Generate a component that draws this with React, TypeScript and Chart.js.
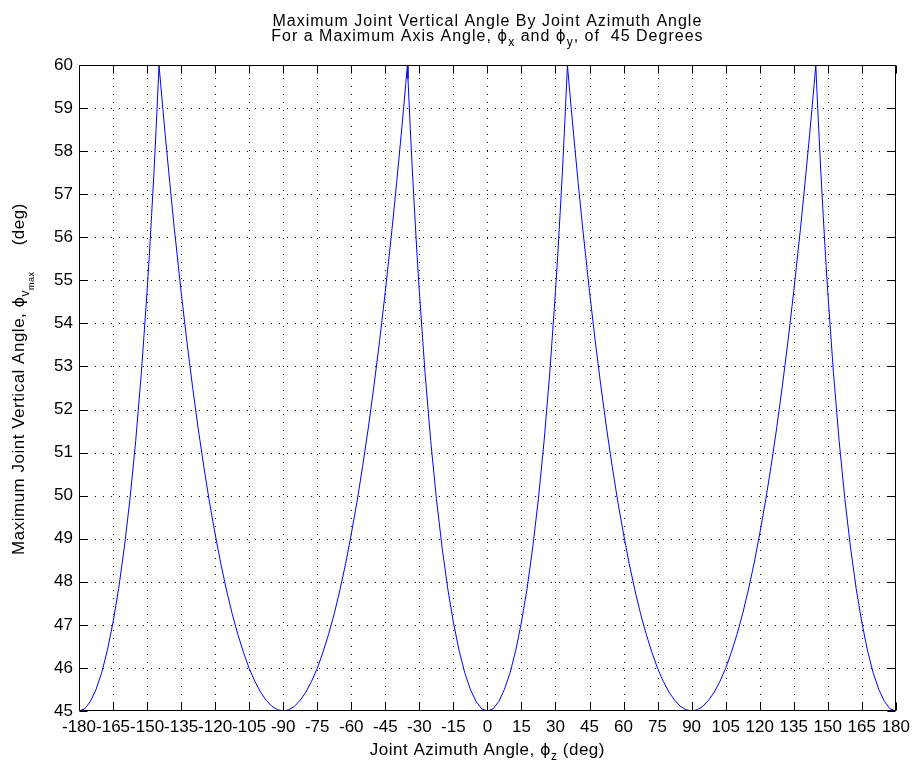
import React, { useEffect, useRef } from "react";
import { Chart, registerables } from "chart.js";
Chart.register(...registerables);

const W = 916;
const H = 763;
const FONT = '"Liberation Sans", Arial, Helvetica, sans-serif';
const SYM = '"DejaVu Sans", sans-serif';

const X_MIN = -180;
const X_MAX = 180;
const X_STEP = 15;
const Y_MIN = 45;
const Y_MAX = 60;
const Y_STEP = 1;

// Segment -180 .. -90
const seg1X = [-180, -177.5, -175, -172.5, -170, -167.5, -165, -162.5, -160, -157.5, -155, -152.5, -150, -149, -148, -147, -146, -145, -144.74, -144, -143, -142, -140, -138, -135, -132.5, -130, -127.5, -125, -122.5, -120, -117.5, -115, -112.5, -110, -107.5, -105, -102.5, -100, -97.5, -95, -92.5, -90];
const seg1Y = [45, 45.05, 45.22, 45.5, 45.89, 46.41, 47.06, 47.85, 48.81, 49.94, 51.28, 52.86, 54.74, 55.58, 56.51, 57.47, 58.53, 59.68, 60, 59.55, 58.96, 58.38, 57.27, 56.21, 54.74, 53.6, 52.55, 51.57, 50.68, 49.85, 49.11, 48.42, 47.81, 47.26, 46.78, 46.36, 45.99, 45.69, 45.44, 45.25, 45.11, 45.03, 45];
// Segment -90 .. 0
const seg2X = [-87.5, -85, -82.5, -80, -77.5, -75, -72.5, -70, -67.5, -65, -62.5, -60, -57.5, -55, -52.5, -50, -47.5, -45, -42, -40, -38, -37, -36, -35.26, -35, -34, -33, -32, -31, -30, -27.5, -25, -22.5, -20, -17.5, -15, -12.5, -10, -7.5, -5, -2.5, 0];
const seg2Y = [45.03, 45.11, 45.25, 45.44, 45.69, 45.99, 46.36, 46.78, 47.26, 47.81, 48.42, 49.11, 49.85, 50.68, 51.57, 52.55, 53.6, 54.74, 56.21, 57.27, 58.38, 58.96, 59.55, 60, 59.68, 58.53, 57.47, 56.51, 55.58, 54.74, 52.86, 51.28, 49.94, 48.81, 47.85, 47.06, 46.41, 45.89, 45.5, 45.22, 45.05, 45];
// Segment 0 .. 90
const seg3X = [2.5, 5, 7.5, 10, 12.5, 15, 17.5, 20, 22.5, 25, 27.5, 30, 31, 32, 33, 34, 35, 35.26, 36, 37, 38, 40, 42, 45, 47.5, 50, 52.5, 55, 57.5, 60, 62.5, 65, 67.5, 70, 72.5, 75, 77.5, 80, 82.5, 85, 87.5, 90];
const seg3Y = [45.05, 45.22, 45.5, 45.89, 46.41, 47.06, 47.85, 48.81, 49.94, 51.28, 52.86, 54.74, 55.58, 56.51, 57.47, 58.53, 59.68, 60, 59.55, 58.96, 58.38, 57.27, 56.21, 54.74, 53.6, 52.55, 51.57, 50.68, 49.85, 49.11, 48.42, 47.81, 47.26, 46.78, 46.36, 45.99, 45.69, 45.44, 45.25, 45.11, 45.03, 45];
// Segment 90 .. 180
const seg4X = [92.5, 95, 97.5, 100, 102.5, 105, 107.5, 110, 112.5, 115, 117.5, 120, 122.5, 125, 127.5, 130, 132.5, 135, 138, 140, 142, 143, 144, 144.74, 145, 146, 147, 148, 149, 150, 152.5, 155, 157.5, 160, 162.5, 165, 167.5, 170, 172.5, 175, 177.5, 180];
const seg4Y = [45.03, 45.11, 45.25, 45.44, 45.69, 45.99, 46.36, 46.78, 47.26, 47.81, 48.42, 49.11, 49.85, 50.68, 51.57, 52.55, 53.6, 54.74, 56.21, 57.27, 58.38, 58.96, 59.55, 60, 59.68, 58.53, 57.47, 56.51, 55.58, 54.74, 52.86, 51.28, 49.94, 48.81, 47.85, 47.06, 46.41, 45.89, 45.5, 45.22, 45.05, 45];

const azimuth = [...seg1X, ...seg2X, ...seg3X, ...seg4X];
const vertical = [...seg1Y, ...seg2Y, ...seg3Y, ...seg4Y];

type Seg = { t: string; size: number; dy: number; fam?: string };

function drawRich(ctx: CanvasRenderingContext2D, segs: Seg[], x: number, y: number, spacing: number) {
  (ctx as any).letterSpacing = spacing + "px";
  const widths = segs.map((s) => {
    ctx.font = `${s.size}px ${s.fam || FONT}`;
    return ctx.measureText(s.t).width;
  });
  const total = widths.reduce((a, b) => a + b, 0);
  let cx = x - total / 2;
  ctx.textAlign = "left";
  ctx.textBaseline = "alphabetic";
  ctx.fillStyle = "#000";
  segs.forEach((s, i) => {
    ctx.font = `${s.size}px ${s.fam || FONT}`;
    ctx.fillText(s.t, cx, y + s.dy);
    cx += widths[i];
  });
  (ctx as any).letterSpacing = "0px";
}

const framePlugin = {
  id: "frame",
  beforeDatasetsDraw(chart: any) {
    const { ctx, chartArea: a, scales } = chart;
    const xs = scales.x;
    const ys = scales.y;
    ctx.save();
    ctx.strokeStyle = "#000";
    ctx.lineWidth = 1;
    ctx.setLineDash([1, 7]);
    for (let v = X_MIN + X_STEP; v < X_MAX; v += X_STEP) {
      const px = Math.round(xs.getPixelForValue(v)) + 0.5;
      ctx.beginPath();
      ctx.moveTo(px, a.bottom);
      ctx.lineTo(px, a.top);
      ctx.stroke();
    }
    for (let v = Y_MIN + Y_STEP; v < Y_MAX; v += Y_STEP) {
      const py = Math.round(ys.getPixelForValue(v)) + 0.5;
      ctx.beginPath();
      ctx.moveTo(a.left, py);
      ctx.lineTo(a.right, py);
      ctx.stroke();
    }
    ctx.setLineDash([]);
    ctx.restore();
  },
  afterDraw(chart: any) {
    const { ctx, chartArea: a, scales } = chart;
    const xs = scales.x;
    const ys = scales.y;
    ctx.save();
    ctx.strokeStyle = "#000";
    ctx.lineWidth = 1;
    const L = Math.round(a.left) + 0.5;
    const R = Math.round(a.right) - 0.5;
    const T = Math.round(a.top) + 0.5;
    const B = Math.round(a.bottom) - 0.5;
    ctx.beginPath();
    ctx.rect(L, T, R - L, B - T);
    ctx.stroke();
    const tl = 8;
    for (let v = X_MIN; v <= X_MAX; v += X_STEP) {
      const px = Math.round(xs.getPixelForValue(v)) + 0.5;
      ctx.beginPath();
      ctx.moveTo(px, B);
      ctx.lineTo(px, B - tl);
      ctx.moveTo(px, T);
      ctx.lineTo(px, T + tl);
      ctx.stroke();
    }
    for (let v = Y_MIN; v <= Y_MAX; v += Y_STEP) {
      const py = Math.round(ys.getPixelForValue(v)) + 0.5;
      ctx.beginPath();
      ctx.moveTo(L, py);
      ctx.lineTo(L + tl, py);
      ctx.moveTo(R, py);
      ctx.lineTo(R - tl, py);
      ctx.stroke();
    }
    const cx = (a.left + a.right) / 2;
    drawRich(ctx, [{ t: "Maximum Joint Vertical Angle By Joint Azimuth Angle", size: 16, dy: 0 }], cx, 26, 1);
    drawRich(
      ctx,
      [
        { t: "For a Maximum Axis Angle, ", size: 16, dy: 0 },
        { t: "ϕ", size: 15, dy: 0, fam: SYM },
        { t: "x", size: 12, dy: 5 },
        { t: " and ", size: 16, dy: 0 },
        { t: "ϕ", size: 15, dy: 0, fam: SYM },
        { t: "y", size: 12, dy: 5 },
        { t: ", of  45 Degrees", size: 16, dy: 0 },
      ],
      cx,
      41,
      1
    );
    drawRich(
      ctx,
      [
        { t: "Joint Azimuth Angle, ", size: 17, dy: 0 },
        { t: "ϕ", size: 16, dy: 0, fam: SYM },
        { t: "z", size: 12, dy: 5 },
        { t: " (deg)", size: 17, dy: 0 },
      ],
      cx,
      755,
      0.5
    );
    ctx.save();
    ctx.translate(23.5, 379);
    ctx.rotate(-Math.PI / 2);
    drawRich(
      ctx,
      [
        { t: "Maximum Joint Vertical Angle, ", size: 17, dy: 0 },
        { t: "ϕ", size: 16, dy: 0, fam: SYM },
        { t: "v", size: 12, dy: 5 },
        { t: "max", size: 9, dy: 10 },
        { t: "     (deg)", size: 17, dy: 0 },
      ],
      0,
      0,
      0.5
    );
    ctx.restore();
    ctx.restore();
  },
};

export default function App() {
  const ref = useRef<HTMLCanvasElement>(null);
  useEffect(() => {
    document.body.style.margin = "0";
    const canvas = ref.current!;
    const points = azimuth.map((x, i) => ({ x, y: vertical[i] }));
    const chart = new Chart(canvas, {
      type: "line",
      data: {
        datasets: [
          {
            data: points,
            borderColor: "#0000ff",
            borderWidth: 1,
            pointRadius: 0,
            tension: 0,
            fill: false,
          },
        ],
      },
      options: {
        responsive: false,
        animation: false,
        devicePixelRatio: 1,
        layout: { padding: { left: 0, right: 19, top: 65, bottom: 0 } },
        plugins: { legend: { display: false }, tooltip: { enabled: false } },
        scales: {
          x: {
            type: "linear",
            min: X_MIN,
            max: X_MAX,
            grid: { display: false, drawTicks: false },
            border: { display: false },
            ticks: {
              stepSize: X_STEP,
              autoSkip: false,
              maxRotation: 0,
              minRotation: 0,
              color: "#000",
              padding: 6,
              font: { family: FONT, size: 17 },
              callback: (v: any) => String(v),
            },
            afterFit: (s: any) => {
              s.height = 52;
            },
          },
          y: {
            type: "linear",
            min: Y_MIN,
            max: Y_MAX,
            grid: { display: false, drawTicks: false },
            border: { display: false },
            ticks: {
              stepSize: Y_STEP,
              autoSkip: false,
              color: "#000",
              padding: 6,
              font: { family: FONT, size: 17 },
              callback: (v: any) => String(v),
            },
            afterFit: (s: any) => {
              s.width = 79;
            },
          },
        },
      },
      plugins: [framePlugin],
    } as any);
    return () => chart.destroy();
  }, []);
  return <canvas ref={ref} width={W} height={H} style={{ display: "block" }} />;
}
